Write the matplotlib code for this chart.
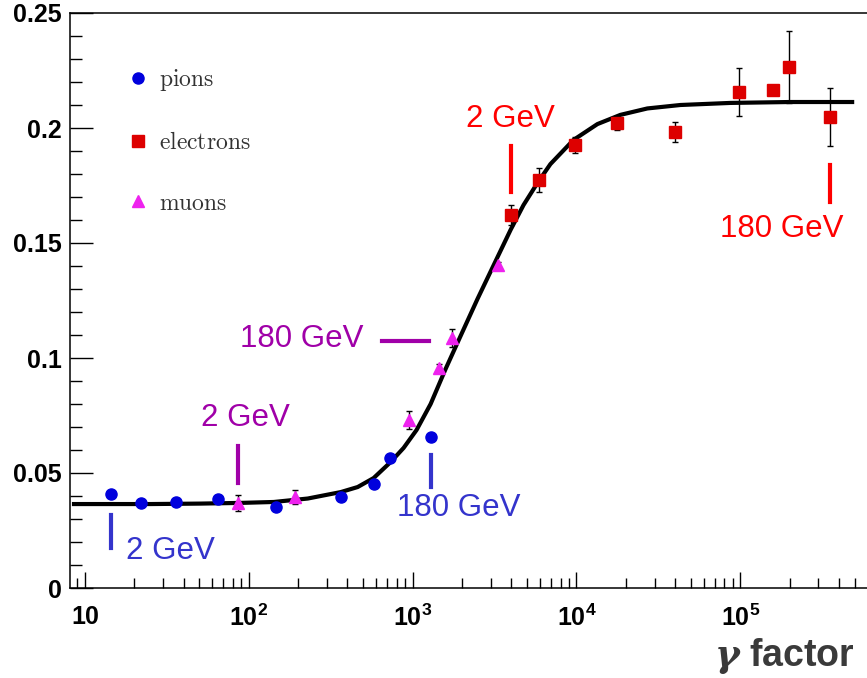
import numpy as np
import matplotlib.pyplot as plt
from matplotlib.font_manager import FontProperties
from matplotlib.ticker import FixedLocator, NullFormatter

plt.rcParams["mathtext.fontset"] = "custom"
plt.rcParams["mathtext.rm"] = "Liberation Sans"
plt.rcParams["mathtext.bf"] = "Liberation Sans:bold"

# pions
pion_x = [14.4, 21.9, 35.9, 64.7, 146, 364, 578, 724, 1288]
pion_y = [0.0409, 0.0370, 0.0374, 0.0387, 0.0352, 0.0396, 0.0452, 0.0565, 0.0657]

# muons
muon_x = [85.7, 191, 946, 1442, 1731, 3342]
muon_y = [0.0370, 0.0396, 0.0730, 0.0957, 0.1087, 0.1404]
muon_err = [0.0035, 0.0030, 0.0040, 0.0015, 0.0040, 0.0015]

# electrons
elec_x = [3963, 5943, 9860, 17780, 40180, 98600, 158900, 199000, 354000]
elec_y = [0.1622, 0.1774, 0.1926, 0.2022, 0.1983, 0.2157, 0.2165, 0.2265, 0.2048]
elec_err = [0.0043, 0.0052, 0.0035, 0.0030, 0.0043, 0.0104, 0.0015, 0.0157, 0.0126]

# fitted curve
curve_x = [8.57, 25.2, 50.9, 89.3, 142, 229, 364, 462, 578, 735, 881, 1057,
           1288, 1589, 1963, 2490, 3300, 3963, 4753, 5780, 6935, 9590, 13430,
           18540, 27100, 43100, 86900, 202000, 482000]
curve_y = [0.0365, 0.0365, 0.0367, 0.0370, 0.0374, 0.0389, 0.0417, 0.0439,
           0.0478, 0.0548, 0.0609, 0.0687, 0.0800, 0.0952, 0.1096, 0.1257,
           0.1439, 0.1557, 0.1665, 0.1761, 0.1843, 0.1948, 0.2017, 0.2057,
           0.2085, 0.2100, 0.2109, 0.2113, 0.2113]

fig = plt.figure(figsize=(8.67, 6.78), dpi=100)
ax = fig.add_axes([70 / 867, 90 / 678, 797 / 867, 575 / 678])

ax.plot(curve_x, curve_y, color="black", linewidth=3, solid_joinstyle="round",
        zorder=2)

ax.errorbar(muon_x, muon_y, yerr=muon_err, fmt="none", ecolor="black",
            elinewidth=1, capsize=2, zorder=3)
ax.errorbar(elec_x, elec_y, yerr=elec_err, fmt="none", ecolor="black",
            elinewidth=1, capsize=2, zorder=3)

ax.plot(pion_x, pion_y, "o", color="#0000dd", markersize=8, label=r"$\mathrm{pions}$", zorder=4)
ax.plot(elec_x, elec_y, "s", color="#dd0000", markersize=8, label=r"$\mathrm{electrons}$", zorder=4)
ax.plot(muon_x, muon_y, "^", color="#ee22ee", markersize=9, label=r"$\mathrm{muons}$", zorder=4)

leg_font = FontProperties(size=17, math_fontfamily="cm")
leg = ax.legend(loc="upper left", bbox_to_anchor=(0.047, 0.9425), frameon=False,
                prop=leg_font, handlelength=0.8, handletextpad=0.5,
                labelspacing=1.55, numpoints=1)
for t in leg.get_texts():
    t.set_color("#333333")

# energy annotations
blue = "#3434cc"
purple = "#a000a8"
red = "#ff0000"
ann = dict(fontsize=22.5, family="Liberation Sans")

ax.plot([pion_x[0], pion_x[0]], [0.0174, 0.0317], color=blue, lw=3)
ax.text(17.8, 0.0161, "2 GeV", color=blue, ha="left", va="center", **ann)
ax.plot([pion_x[-1], pion_x[-1]], [0.0439, 0.0578], color=blue, lw=3)
ax.text(1905, 0.0348, "180 GeV", color=blue, ha="center", va="center", **ann)

ax.plot([muon_x[0], muon_x[0]], [0.0457, 0.0617], color=purple, lw=3)
ax.text(95.9, 0.0739, "2 GeV", color=purple, ha="center", va="center", **ann)
ax.plot([647, 1253], [0.1074, 0.1074], color=purple, lw=3)
ax.text(210, 0.1083, "180 GeV", color=purple, ha="center", va="center", **ann)

ax.plot([elec_x[0], elec_x[0]], [0.1722, 0.1922], color=red, lw=3)
ax.text(3963, 0.2039, "2 GeV", color=red, ha="center", va="center", **ann)
ax.plot([elec_x[-1], elec_x[-1]], [0.1678, 0.1839], color=red, lw=3)
ax.text(178000, 0.1561, "180 GeV", color=red, ha="center", va="center", **ann)

ax.set_xscale("log")
ax.set_xlim(8.1, 5.94e5)
ax.set_ylim(0, 0.25)

ax.spines["right"].set_visible(False)
for s in ["left", "top", "bottom"]:
    ax.spines[s].set_linewidth(1.1)

ax.xaxis.set_major_locator(FixedLocator([10, 1e2, 1e3, 1e4, 1e5]))
ax.set_xticklabels([r"$\mathbf{10}$", r"$\mathbf{10^{2}}$", r"$\mathbf{10^{3}}$",
                    r"$\mathbf{10^{4}}$", r"$\mathbf{10^{5}}$"])
minor = [m * 10 ** e for e in range(0, 6) for m in range(2, 10)]
ax.xaxis.set_minor_locator(FixedLocator(minor))
ax.xaxis.set_minor_formatter(NullFormatter())

ax.set_yticks([0, 0.05, 0.1, 0.15, 0.2, 0.25])
ax.set_yticklabels(["0", "0.05", "0.1", "0.15", "0.2", "0.25"])
ax.set_yticks(np.arange(0.01, 0.25, 0.01), minor=True)

ax.tick_params(axis="x", which="major", direction="in", length=11.5, width=1, pad=12,
               labelsize=18)
ax.tick_params(axis="x", which="minor", direction="in", length=7, width=1)
ax.tick_params(axis="y", which="major", direction="in", length=16.5, width=1, pad=6)
ax.tick_params(axis="y", which="minor", direction="in", length=8.5, width=1)
for lab in ax.get_yticklabels():
    lab.set_fontfamily("Liberation Sans")
    lab.set_fontweight("bold")
    lab.set_fontsize(18)

fig.text(855 / 867, 1 - 656 / 678, r"$\boldsymbol{\gamma}$ factor", ha="right",
         va="center", fontsize=27, fontweight="bold", family="Liberation Sans",
         color="#3a3a3a", math_fontfamily="dejavuserif")

plt.savefig("out.png", dpi=100)
